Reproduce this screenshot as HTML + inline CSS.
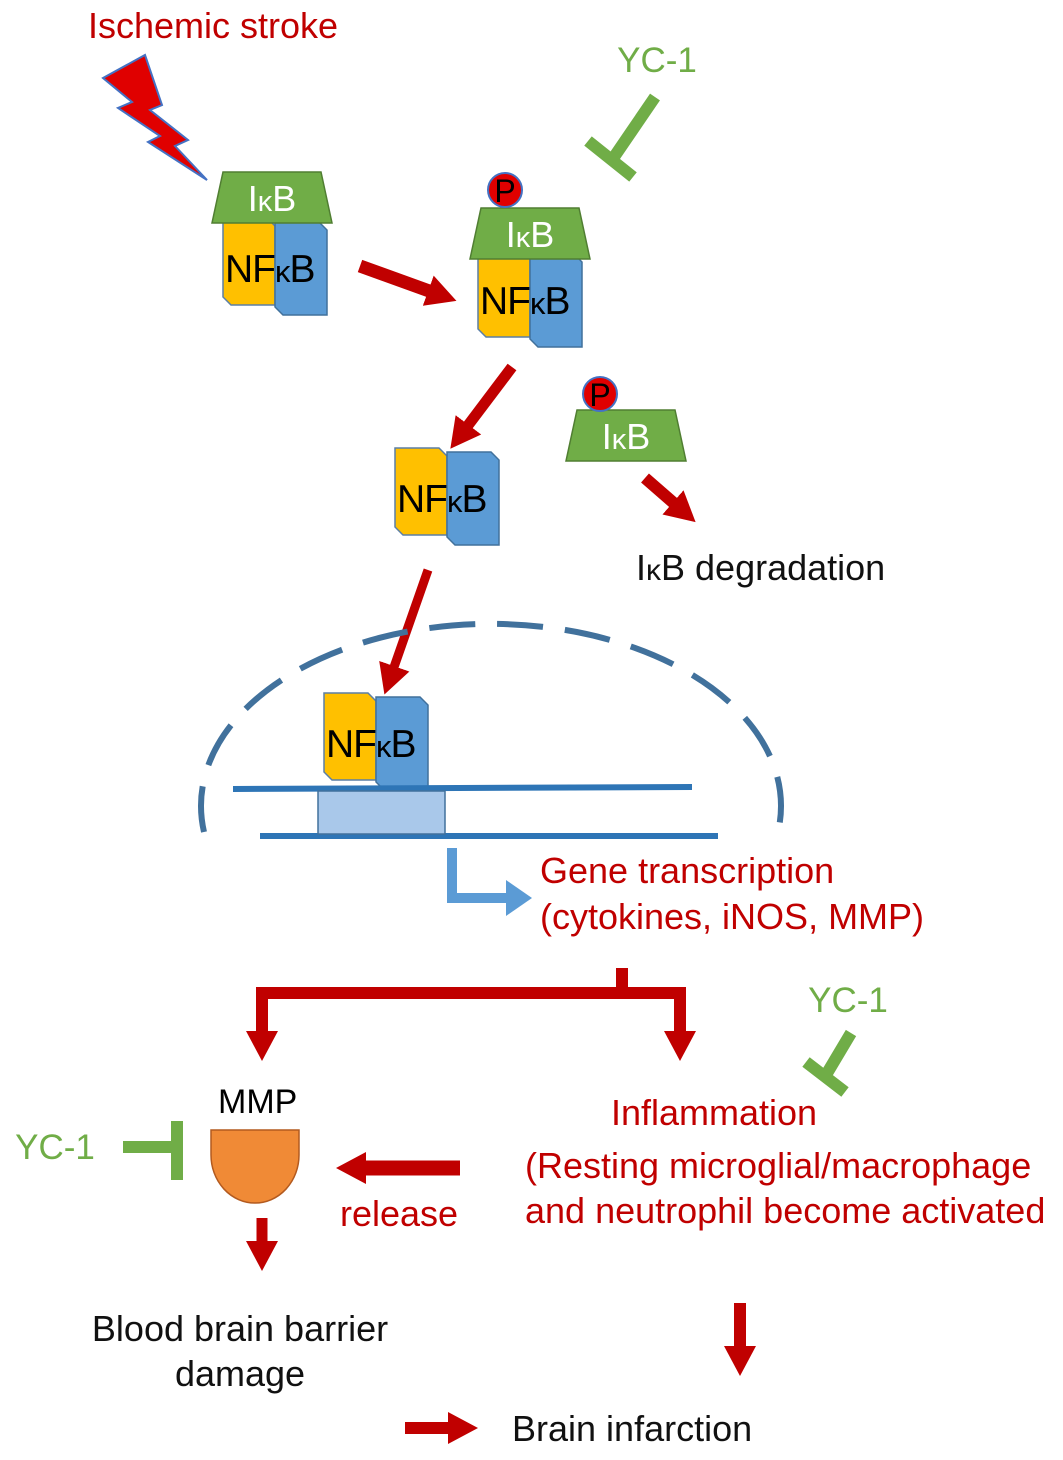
<!DOCTYPE html>
<html><head><meta charset="utf-8"><style>body{margin:0;background:#fff}svg{display:block}text{font-family:"Liberation Sans",sans-serif}</style></head><body>
<svg width="1063" height="1460" viewBox="0 0 1063 1460" xmlns="http://www.w3.org/2000/svg">
<defs>
<marker id="ah" markerUnits="userSpaceOnUse" markerWidth="40" markerHeight="40" refX="4" refY="20" orient="auto" viewBox="0 0 40 40"><path d="M0,4 L30,20 L0,36 Z" fill="#c00000"/></marker>
<g id="nf">
<path d="M0,0 H44 L52,8 V87 H8 L0,79 Z" fill="#ffc000" stroke="#5b7fa6" stroke-width="1.5"/>
<path d="M52,4 H96 L104,12 V97 H60 L52,89 Z" fill="#5b9bd5" stroke="#41719c" stroke-width="1.5"/>
<text x="2" y="64" font-size="39" fill="#000" letter-spacing="-1">NF<tspan font-size="31">κ</tspan>B</text>
</g>
<g id="ikb">
<path d="M8,0 H106 L117,51 H-3 Z" fill="#70ad47" stroke="#507e32" stroke-width="1.5"/>
<text x="57" y="39" font-size="36" fill="#fff" text-anchor="middle">I<tspan font-size="29">κ</tspan>B</text>
</g>
<g id="p"><circle r="17" fill="#e00000" stroke="#4472c4" stroke-width="2"/><text y="12" font-size="32" text-anchor="middle" fill="#000">P</text></g>
</defs>

<text x="88" y="38" font-size="36" fill="#c00000">Ischemic stroke</text>
<polygon points="103,78 145,55 162,105 150,110 188,140 175,146 207,180 148,142 160,136 118,108 132,102" fill="#e00000" stroke="#4472c4" stroke-width="2"/>

<use href="#nf" x="223" y="218"/>
<use href="#ikb" x="215" y="172"/>

<use href="#nf" x="478" y="250"/>
<use href="#ikb" x="473" y="208"/>
<use href="#p" x="505" y="190"/>

<text x="657" y="72" font-size="35" fill="#70ad47" text-anchor="middle">YC-1</text>
<path d="M655,97 L612,160 M588,141 L633,177" stroke="#70ad47" stroke-width="12" fill="none"/>

<line x1="360" y1="266" x2="432" y2="292" stroke="#c00000" stroke-width="13" marker-end="url(#ah)"/>
<line x1="512" y1="367" x2="466" y2="428" stroke="#c00000" stroke-width="11" marker-end="url(#ah)"/>

<use href="#ikb" x="569" y="410"/>
<use href="#p" x="600" y="394"/>
<line x1="645" y1="478" x2="676" y2="505" stroke="#c00000" stroke-width="12" marker-end="url(#ah)"/>
<text x="636" y="580" font-size="36" fill="#111">I<tspan font-size="30">κ</tspan>B degradation</text>

<use href="#nf" x="395" y="448"/>
<line x1="428" y1="570" x2="393" y2="670" stroke="#c00000" stroke-width="9" marker-end="url(#ah)"/>

<path d="M204,832 A290,182 0 1 1 778,832" fill="none" stroke="#41719c" stroke-width="6" stroke-dasharray="46,22"/>
<use href="#nf" x="324" y="693"/>
<line x1="233" y1="789" x2="692" y2="787" stroke="#2e75b6" stroke-width="6"/>
<line x1="260" y1="836" x2="718" y2="836" stroke="#2e75b6" stroke-width="6"/>
<rect x="318" y="791" width="127" height="43" fill="#a9c8ea" stroke="#41719c" stroke-width="1.5"/>
<path d="M452,848 V898 H508" fill="none" stroke="#5b9bd5" stroke-width="10"/>
<path d="M506,880 L532,898 L506,916 Z" fill="#5b9bd5"/>
<text x="540" y="883" font-size="36" fill="#c00000">Gene transcription</text>
<text x="540" y="929" font-size="36" fill="#c00000">(cytokines, iNOS, MMP)</text>

<path d="M622,968 V993 M256,993 H686" stroke="#c00000" stroke-width="12" fill="none"/>
<line x1="262" y1="987" x2="262" y2="1035" stroke="#c00000" stroke-width="12" marker-end="url(#ah)"/>
<line x1="680" y1="987" x2="680" y2="1035" stroke="#c00000" stroke-width="12" marker-end="url(#ah)"/>

<text x="848" y="1012" font-size="35" fill="#70ad47" text-anchor="middle">YC-1</text>
<path d="M851,1033 L823,1080 M806,1062 L845,1092" stroke="#70ad47" stroke-width="12" fill="none"/>

<text x="218" y="1113" font-size="34" fill="#000">MMP</text>
<path d="M211,1130 H299 V1155 A44,48 0 0 1 211,1155 Z" fill="#f08a36" stroke="#b35a1f" stroke-width="1.5"/>
<text x="55" y="1159" font-size="35" fill="#70ad47" text-anchor="middle">YC-1</text>
<path d="M123,1147 H177 M177,1121 V1180" stroke="#70ad47" stroke-width="12" fill="none"/>

<text x="714" y="1125" font-size="36" fill="#c00000" text-anchor="middle">Inflammation</text>
<text x="525" y="1178" font-size="36" fill="#c00000">(Resting microglial/macrophage</text>
<text x="525" y="1223" font-size="36" fill="#c00000">and neutrophil become activated</text>

<line x1="460" y1="1168" x2="362" y2="1168" stroke="#c00000" stroke-width="15" marker-end="url(#ah)"/>
<text x="340" y="1226" font-size="36" fill="#c00000">release</text>

<line x1="262" y1="1218" x2="262" y2="1245" stroke="#c00000" stroke-width="11" marker-end="url(#ah)"/>
<text x="240" y="1341" font-size="36" fill="#111" text-anchor="middle">Blood brain barrier</text>
<text x="240" y="1386" font-size="36" fill="#111" text-anchor="middle">damage</text>

<line x1="740" y1="1303" x2="740" y2="1350" stroke="#c00000" stroke-width="12" marker-end="url(#ah)"/>
<line x1="405" y1="1428" x2="452" y2="1428" stroke="#c00000" stroke-width="12" marker-end="url(#ah)"/>
<text x="512" y="1441" font-size="36" fill="#111">Brain infarction</text>
</svg>
</body></html>
